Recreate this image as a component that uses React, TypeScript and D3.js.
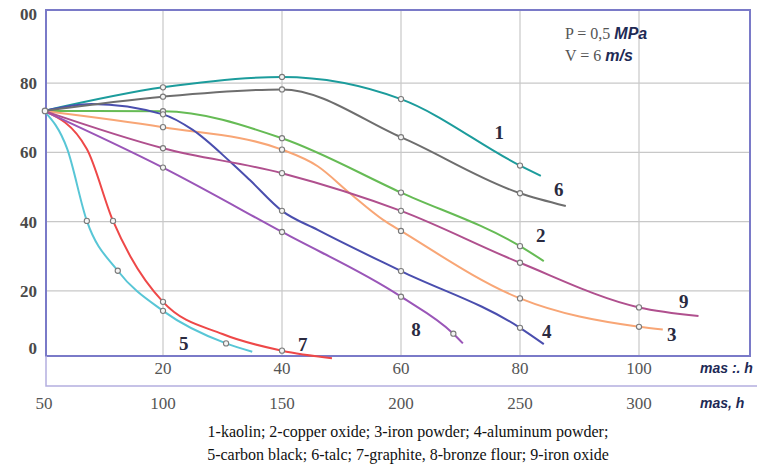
import { useEffect, useRef } from "react";
import * as d3 from "d3";

// hours on the top axis, wear value on the left axis
const hourTicks = [20, 40, 60, 80, 100];
const massTicks = [50, 100, 150, 200, 250, 300];
const valueTicks = [0, 20, 40, 60, 80, 100];
const valueTickLabels = ["0", "20", "40", "60", "80", "00"];

const kaolin = [[0, 72], [20, 78.8], [40, 81.8], [60, 75.4], [80, 56.2], [83.5, 53.2]];
const copperOxide = [[0, 72], [20, 71.9], [40, 64.1], [60, 48.4], [80, 32.9], [84, 28.6]];
const ironPowder = [[0, 72], [20, 67.3], [40, 60.8], [46, 56], [51.4, 48.2], [57, 40.5], [60, 37.3], [80, 17.8], [100, 9.6], [104, 8.8]];
const aluminumPowder = [[0, 72], [8, 74], [20, 71], [25, 66.5], [31.3, 57.3], [34.6, 52], [40, 43.1], [46, 37.6], [60, 25.7], [80, 9.3], [84, 4.6]];
const carbonBlack = [[0, 72], [3.9, 61], [7.2, 40.2], [12.4, 25.8], [20, 14.2], [30.6, 4.8], [35, 2.4]];
const talc = [[0, 72], [20, 76.1], [40, 78.2], [60, 64.4], [80, 48.2], [87.7, 44.5]];
const graphite = [[0, 72], [7.2, 61], [11.6, 40.2], [14.5, 30], [20, 16.8], [30, 7.5], [40, 2.7], [48.4, 0.5]];
const bronzeFlour = [[0, 72], [20, 55.6], [40, 37], [60, 18.3], [68.8, 7.6], [70.4, 4.8]];
const ironOxide = [[0, 72], [20, 61.2], [40, 54], [60, 43.1], [80, 28.1], [100, 15.2], [110, 12.7]];

const seriesNames = ["1", "2", "3", "4", "5", "6", "7", "8", "9"];
const seriesValues = [kaolin, copperOxide, ironPowder, aluminumPowder, carbonBlack, talc, graphite, bronzeFlour, ironOxide];
// hours at which the original plot shows a small circle marker
const markedHours = [
  [20, 40, 60, 80],
  [20, 40, 60, 80],
  [20, 40, 60, 80, 100],
  [20, 40, 60, 80],
  [7.2, 12.4, 20, 30.6],
  [20, 40, 60, 80],
  [11.6, 20, 40],
  [20, 40, 60, 68.8],
  [20, 40, 60, 80, 100],
];
const colors = ["#1c9c9c", "#66bb55", "#f8a676", "#4a4eae", "#58c6d6", "#6e6e6e", "#ee4848", "#9a56b8", "#b0508e"];
// where each curve number sits: [hour, value]
const labelAt = [[76.5, 64], [83.5, 34], [105.5, 5.5], [84.5, 6.5], [23.5, 3], [86.5, 47.5], [43.5, 2.5], [62.5, 7], [107.5, 15]];

const caption1 = "1-kaolin; 2-copper oxide; 3-iron powder; 4-aluminum powder;";
const caption2 = "5-carbon black; 6-talc; 7-graphite, 8-bronze flour; 9-iron oxide";

const W = 773;
const H = 466;

export default function App() {
  const svgRef = useRef<SVGSVGElement | null>(null);

  useEffect(() => {
    const svg = d3.select(svgRef.current);
    svg.selectAll("*").remove();

    const x = d3.scaleLinear().domain([0, 120]).range([44, 758]);
    const y = d3.scaleLinear().domain([0, 100]).range([360, 14]);
    const xMass = d3.scaleLinear().domain([50, 350]).range([x(0), x(120)]);

    const frameLeft = 46;
    const frameTop = 10;
    const frameRight = 750;
    const frameBottom = 356;

    const serif = "Liberation Serif, DejaVu Serif, serif";
    const sans = "Liberation Sans, DejaVu Sans, sans-serif";

    // grid
    const grid = svg.append("g").attr("stroke", "#c8c8c8").attr("stroke-width", 1.2);
    hourTicks.forEach((h) => {
      grid.append("line").attr("x1", x(h)).attr("x2", x(h)).attr("y1", frameTop).attr("y2", frameBottom);
    });
    valueTicks.filter((v) => v > 0 && v < 100).forEach((v) => {
      grid.append("line").attr("x1", frameLeft).attr("x2", frameRight).attr("y1", y(v)).attr("y2", y(v));
    });

    // frame
    svg.append("rect")
      .attr("x", frameLeft).attr("y", frameTop)
      .attr("width", frameRight - frameLeft).attr("height", frameBottom - frameTop)
      .attr("fill", "none").attr("stroke", "#7a7ac8").attr("stroke-width", 2);

    // second axis bracket
    svg.append("path")
      .attr("d", `M${frameLeft},${frameBottom} V386 H757`)
      .attr("fill", "none").attr("stroke", "#b4aee0").attr("stroke-width", 1.5);

    // y tick labels
    svg.append("g").selectAll("text").data(valueTicks).enter().append("text")
      .attr("x", 37)
      .attr("y", (v) => (v === 0 ? y(v) - 6 : y(v) + 6))
      .attr("text-anchor", "end")
      .style("font-family", serif).attr("font-size", 17).attr("font-weight", "bold")
      .attr("fill", "#4a4a4a")
      .text((v, i) => valueTickLabels[i]);

    // top row of x labels (hours)
    svg.append("g").selectAll("text").data(hourTicks).enter().append("text")
      .attr("x", (h) => x(h)).attr("y", 374)
      .attr("text-anchor", "middle")
      .style("font-family", serif).attr("font-size", 17)
      .attr("fill", "#555")
      .text((h) => String(h));

    // bottom row of x labels (mass)
    svg.append("g").selectAll("text").data(massTicks).enter().append("text")
      .attr("x", (m) => xMass(m)).attr("y", 409)
      .attr("text-anchor", "middle")
      .style("font-family", serif).attr("font-size", 17)
      .attr("fill", "#555")
      .text((m) => String(m));

    svg.append("text").attr("x", 700).attr("y", 373)
      .style("font-family", sans).attr("font-size", 14).attr("font-style", "italic").attr("font-weight", "bold")
      .attr("fill", "#1e2a55").text("mas  :. h");
    svg.append("text").attr("x", 700).attr("y", 408)
      .style("font-family", sans).attr("font-size", 14).attr("font-style", "italic").attr("font-weight", "bold")
      .attr("fill", "#1e2a55").text("mas, h");

    // curves
    const line = d3.line<number[]>()
      .x((d) => x(d[0]))
      .y((d) => y(d[1]))
      .curve(d3.curveMonotoneX);

    const curves = svg.append("g");
    seriesValues.forEach((vals, i) => {
      curves.append("path")
        .attr("d", line(vals))
        .attr("fill", "none")
        .attr("stroke", colors[i])
        .attr("stroke-width", 2);
    });

    const marks = svg.append("g");
    seriesValues.forEach((vals, i) => {
      vals.filter((d) => markedHours[i].includes(d[0])).forEach((d) => {
        marks.append("circle")
          .attr("cx", x(d[0])).attr("cy", y(d[1])).attr("r", 2.6)
          .attr("fill", "#f4f4f4").attr("stroke", "#7a7a7a").attr("stroke-width", 1.1);
      });
    });
    marks.append("circle")
      .attr("cx", x(kaolin[0][0]) + 1).attr("cy", y(kaolin[0][1])).attr("r", 2.8)
      .attr("fill", "#f4f4f4").attr("stroke", "#7a7a7a").attr("stroke-width", 1.1);

    // curve numbers
    svg.append("g").selectAll("text").data(seriesNames).enter().append("text")
      .attr("x", (n, i) => x(labelAt[i][0]))
      .attr("y", (n, i) => y(labelAt[i][1]))
      .attr("text-anchor", "middle")
      .style("font-family", serif).attr("font-size", 19).attr("font-weight", "bold")
      .attr("fill", "#2a2a40")
      .text((n) => n);

    // conditions
    const cond = svg.append("g").attr("font-size", 16);
    const p = cond.append("text").attr("x", 565).attr("y", 39).style("font-family", serif).attr("fill", "#555");
    p.append("tspan").text("P = 0,5 ");
    p.append("tspan").style("font-family", sans).attr("font-style", "italic").attr("font-weight", "bold")
      .attr("fill", "#1e2a55").text("MPa");
    const v = cond.append("text").attr("x", 565).attr("y", 61).style("font-family", serif).attr("fill", "#555");
    v.append("tspan").text("V = 6 ");
    v.append("tspan").style("font-family", sans).attr("font-style", "italic").attr("font-weight", "bold")
      .attr("fill", "#1e2a55").text("m/s");

    // caption
    svg.append("text").attr("x", 408).attr("y", 437).attr("text-anchor", "middle")
      .style("font-family", serif).attr("font-size", 16).attr("fill", "#111").text(caption1);
    svg.append("text").attr("x", 408).attr("y", 460).attr("text-anchor", "middle")
      .style("font-family", serif).attr("font-size", 16).attr("fill", "#111").text(caption2);
  }, []);

  return (
    <div style={{ position: "absolute", left: 0, top: 0, width: W, height: H, background: "#fff" }}>
      <svg ref={svgRef} width={W} height={H} />
    </div>
  );
}
